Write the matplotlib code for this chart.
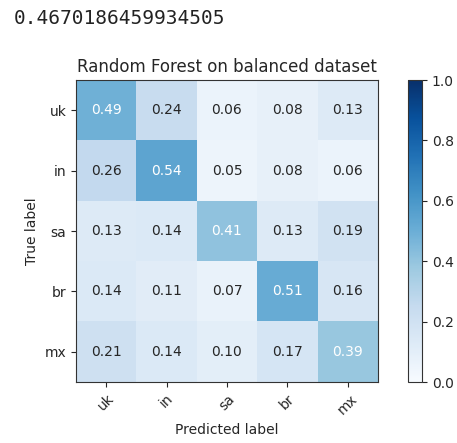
import numpy as np
import matplotlib.pyplot as plt

# Etiquetas de clases y matriz de confusion normalizada
classes = ['uk', 'in', 'sa', 'br', 'mx']
cm = np.array([
    [0.49, 0.24, 0.06, 0.08, 0.13],
    [0.26, 0.54, 0.05, 0.08, 0.06],
    [0.13, 0.14, 0.41, 0.13, 0.19],
    [0.14, 0.11, 0.07, 0.51, 0.16],
    [0.21, 0.14, 0.10, 0.17, 0.39],
])
score_text = '0.4670186459934505'
title = 'Random Forest on balanced dataset'

W, H = 457, 443
dpi = 100
fig = plt.figure(figsize=(W / dpi, H / dpi), dpi=dpi)

# Salida impresa del notebook
fig.text(14 / W, 1 - 18 / H, score_text, family='DejaVu Sans Mono',
         fontsize=14, color='#222222', va='center', ha='left')

ax = fig.add_axes([76 / W, 1 - 382 / H, 302 / W, 302 / H])
cax = fig.add_axes([408 / W, 1 - 382 / H, 14 / W, 302 / H])

im = ax.imshow(cm, interpolation='nearest', cmap=plt.cm.Blues, vmin=0, vmax=1,
               aspect='auto')
ax.set_title(title, fontsize=12, color='#262626')
cb = fig.colorbar(im, cax=cax)
cb.set_ticks([0.0, 0.2, 0.4, 0.6, 0.8, 1.0])
cb.ax.tick_params(labelsize=10, colors='#262626')
cb.outline.set_edgecolor('#333333')

tick_marks = np.arange(len(classes))
ax.set_xticks(tick_marks)
ax.set_xticklabels(classes, rotation=45)
ax.set_yticks(tick_marks)
ax.set_yticklabels(classes)
ax.tick_params(labelsize=10, colors='#262626')

thresh = cm.max() / 2.
for i in range(cm.shape[0]):
    for j in range(cm.shape[1]):
        ax.text(j, i, format(cm[i, j], '.2f'), ha='center', va='center',
                fontsize=10,
                color='white' if cm[i, j] > thresh else '#262626')

for s in ax.spines.values():
    s.set_edgecolor('#333333')

ax.set_ylabel('True label', fontsize=10, color='#262626')
ax.set_xlabel('Predicted label', fontsize=10, color='#262626')

fig.savefig('out.png', dpi=dpi)
